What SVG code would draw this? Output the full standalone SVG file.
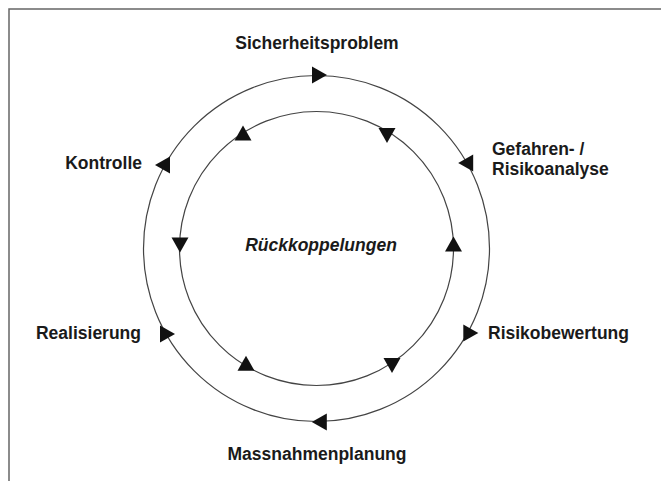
<svg xmlns="http://www.w3.org/2000/svg" xmlns:xlink="http://www.w3.org/1999/xlink" width="661" height="481" viewBox="0 0 661 481">
<style>
.lbl{font-family:"Liberation Sans",Arial,Helvetica,sans-serif;font-weight:bold;font-size:17.5px;fill:#1a1a1a}
.it{font-style:italic}
.ring{fill:none;stroke:#444;stroke-width:1.2}
.head{fill:#111}
.frame{fill:none;stroke:#666;stroke-width:1.5}
</style>
<defs>
<polygon id="ah" class="head" points="-7.5,-8.5 7.5,0 -7.5,8.5"/>
</defs>
<rect width="661" height="481" fill="#fff"/>
<polyline class="frame" points="9,481 9,9 661,9"/>
<g id="connectors">
<circle class="ring" cx="316.5" cy="248.5" r="173"/>
<circle class="ring" cx="316.5" cy="248.5" r="137"/>
<use xlink:href="#ah" transform="translate(319.5,75)"/>
<use xlink:href="#ah" transform="translate(465.7,163) rotate(180)"/>
<use xlink:href="#ah" transform="translate(470.8,333)"/>
<use xlink:href="#ah" transform="translate(319.3,422) rotate(180)"/>
<use xlink:href="#ah" transform="translate(167.5,334)"/>
<use xlink:href="#ah" transform="translate(162.5,165) rotate(180)"/>
<use xlink:href="#ah" transform="translate(243,133) rotate(-90)"/>
<use xlink:href="#ah" transform="translate(387,135.5) rotate(90)"/>
<use xlink:href="#ah" transform="translate(453.5,244) rotate(-90)"/>
<use xlink:href="#ah" transform="translate(392,365.5) rotate(90)"/>
<use xlink:href="#ah" transform="translate(246,363.3) rotate(-90)"/>
<use xlink:href="#ah" transform="translate(180,245) rotate(90)"/>
</g>
<g id="sicherheitsproblem"><text class="lbl" x="317" y="48.5" text-anchor="middle">Sicherheitsproblem</text></g>
<g id="gefahren"><text class="lbl" x="492" y="154.5">Gefahren- /</text><text class="lbl" x="492" y="175">Risikoanalyse</text></g>
<g id="risikobewertung"><text class="lbl" x="488" y="339">Risikobewertung</text></g>
<g id="massnahmenplanung"><text class="lbl" x="317" y="460" text-anchor="middle">Massnahmenplanung</text></g>
<g id="realisierung"><text class="lbl" x="141" y="339" text-anchor="end">Realisierung</text></g>
<g id="kontrolle"><text class="lbl" x="142" y="169" text-anchor="end">Kontrolle</text></g>
<g id="rueckkoppelungen"><text class="lbl it" x="321" y="251" text-anchor="middle">Rückkoppelungen</text></g>
</svg>
